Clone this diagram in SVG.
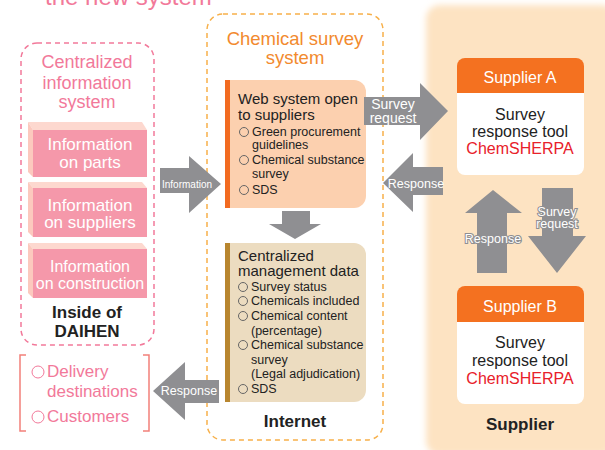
<svg xmlns="http://www.w3.org/2000/svg" width="605" height="450" viewBox="0 0 605 450">
<defs>
<style>
text{font-family:"Liberation Sans",Arial,sans-serif}
.pinkT{fill:#f2799a;font-size:17px}
.pinkH{fill:#f2799a;font-size:18px}
.orT{fill:#f28a2e;font-size:18.5px}
.box3dT{fill:#fff;font-size:17px;text-anchor:middle}
.blk{fill:#222;font-size:15px}
.item{fill:#222;font-size:12.5px}
.bold{fill:#222;font-size:17px;font-weight:bold;text-anchor:middle}
.arrow{fill:#8f8f92}
.arT{fill:#fff;text-anchor:middle}
.outT{fill:#fff;stroke:#8f8f92;stroke-width:2.2;paint-order:stroke;text-anchor:middle;font-size:12.5px}
.sup{fill:#fff;font-size:16px;text-anchor:middle}
.supB{fill:#222;font-size:16px;text-anchor:middle}
.chem{fill:#e8202a;font-size:16px;text-anchor:middle}
.circ{fill:none;stroke:#666;stroke-width:1}
</style>
<filter id="soft" x="-5%" y="-5%" width="110%" height="110%"><feGaussianBlur stdDeviation="3"/></filter>
</defs>
<rect width="605" height="450" fill="#fff"/>

<text x="45" y="5" style="fill:#f2799a;font-size:24px;font-family:'Liberation Sans',Arial,sans-serif">the new system</text>

<g id="supplier-panel">
<rect x="426" y="5" width="190" height="450" rx="14" fill="#fde3c2" filter="url(#soft)"/>
<text x="520" y="430" class="bold">Supplier</text>
</g>

<g id="centralized-info">
<rect x="21" y="43" width="133" height="302" rx="16" fill="none" stroke="#f2799a" stroke-width="1.5" stroke-dasharray="5,4"/>
<text x="87" y="68" class="pinkH" text-anchor="middle">Centralized</text>
<text x="87" y="89" class="pinkH" text-anchor="middle">information</text>
<text x="87" y="108" class="pinkH" text-anchor="middle">system</text>
<text x="87" y="318" class="bold">Inside of</text>
<text x="87" y="337" class="bold">DAIHEN</text>
</g>

<g id="info-parts">
<polygon points="28,122 142,122 147,130 33,130" fill="#fdd8cf"/>
<polygon points="28,122 33,130 33,177 28,172" fill="#fcc9be"/>
<rect x="33" y="130" width="114" height="47" fill="#f598aa"/>
<text x="90" y="150" class="box3dT">Information</text>
<text x="90" y="168" class="box3dT">on parts</text>
</g>
<g id="info-suppliers">
<polygon points="28,182 142,182 147,188 33,188" fill="#fdd8cf"/>
<polygon points="28,182 33,188 33,237 28,232" fill="#fcc9be"/>
<rect x="33" y="188" width="114" height="49" fill="#f598aa"/>
<text x="90" y="211" class="box3dT">Information</text>
<text x="90" y="228" class="box3dT">on suppliers</text>
</g>
<g id="info-construction">
<polygon points="28,243 142,243 147,249 33,249" fill="#fdd8cf"/>
<polygon points="28,243 33,249 33,298 28,293" fill="#fcc9be"/>
<rect x="33" y="249" width="114" height="49" fill="#f598aa"/>
<text x="90" y="272" class="box3dT" style="font-size:16px">Information</text>
<text x="90" y="289" class="box3dT" style="font-size:16px">on construction</text>
</g>

<g id="destinations">
<path d="M26,355 H20 V431 H26 M143,355 H149 V431 H143" fill="none" stroke="#f2807a" stroke-width="1.5"/>
<circle cx="38" cy="372" r="6" fill="none" stroke="#f2799a" stroke-width="1"/>
<text x="47" y="377" class="pinkT">Delivery</text>
<text x="47" y="397" class="pinkT">destinations</text>
<circle cx="38" cy="417" r="6" fill="none" stroke="#f2799a" stroke-width="1"/>
<text x="47" y="422" class="pinkT">Customers</text>
</g>

<g id="chemical-survey-system">
<rect x="207" y="14" width="176" height="426" rx="16" fill="none" stroke="#f7b04a" stroke-width="1.5" stroke-dasharray="5,4"/>
<text x="295" y="45" class="orT" text-anchor="middle">Chemical survey</text>
<text x="295" y="64" class="orT" text-anchor="middle">system</text>
<text x="295" y="427" class="bold">Internet</text>
</g>

<g id="web-system">
<path d="M225,80 H354 A12,12 0 0 1 366,92 V196 A12,12 0 0 1 354,208 H225 Z" fill="#fcd0af"/>
<rect x="225" y="80" width="5" height="128" fill="#f26b21"/>
<text x="238" y="104" class="blk">Web system open</text>
<text x="238" y="120" class="blk">to suppliers</text>
<circle cx="244" cy="132" r="4.5" class="circ"/>
<text x="252" y="136" class="item">Green procurement</text>
<text x="252" y="149" class="item">guidelines</text>
<circle cx="244" cy="160" r="4.5" class="circ"/>
<text x="252" y="164" class="item">Chemical substance</text>
<text x="252" y="178" class="item">survey</text>
<circle cx="244" cy="190" r="4.5" class="circ"/>
<text x="252" y="194" class="item">SDS</text>
</g>

<g id="management-data">
<path d="M225,243 H354 A12,12 0 0 1 366,255 V390 A12,12 0 0 1 354,402 H225 Z" fill="#ecdcc0"/>
<rect x="225" y="243" width="5" height="159" fill="#b8862f"/>
<text x="238" y="261" class="blk">Centralized</text>
<text x="238" y="276" class="blk">management data</text>
<circle cx="243" cy="287" r="4.5" class="circ"/>
<text x="251" y="291" class="item">Survey status</text>
<circle cx="243" cy="301" r="4.5" class="circ"/>
<text x="251" y="305" class="item">Chemicals included</text>
<circle cx="243" cy="316" r="4.5" class="circ"/>
<text x="251" y="320" class="item">Chemical content</text>
<text x="251" y="335" class="item">(percentage)</text>
<circle cx="243" cy="345" r="4.5" class="circ"/>
<text x="251" y="349" class="item">Chemical substance</text>
<text x="251" y="364" class="item">survey</text>
<text x="251" y="378" class="item">(Legal adjudication)</text>
<circle cx="243" cy="389" r="4.5" class="circ"/>
<text x="251" y="393" class="item">SDS</text>
</g>

<g id="supplier-a">
<path d="M457,66 A8,8 0 0 1 465,58 H576 A8,8 0 0 1 584,66 V93 H457 Z" fill="#f47120"/>
<path d="M457,93 H584 V167 A8,8 0 0 1 576,175 H465 A8,8 0 0 1 457,167 Z" fill="#fff"/>
<text x="520" y="83" class="sup">Supplier A</text>
<text x="520" y="120" class="supB">Survey</text>
<text x="520" y="137" class="supB">response tool</text>
<text x="520" y="154" class="chem">ChemSHERPA</text>
</g>

<g id="supplier-b">
<path d="M457,294 A8,8 0 0 1 465,286 H576 A8,8 0 0 1 584,294 V322 H457 Z" fill="#f47120"/>
<path d="M457,322 H584 V396 A8,8 0 0 1 576,404 H465 A8,8 0 0 1 457,396 Z" fill="#fff"/>
<text x="520" y="312" class="sup">Supplier B</text>
<text x="520" y="348" class="supB">Survey</text>
<text x="520" y="366" class="supB">response tool</text>
<text x="520" y="384" class="chem">ChemSHERPA</text>
</g>

<g id="connectors">
<polygon class="arrow" points="160,168 189,168 189,156 221,184 189,213 189,193 160,193"/>
<text x="187" y="188" class="arT" style="font-size:11px" textLength="50" lengthAdjust="spacingAndGlyphs">Information</text>

<polygon class="arrow" points="282,211 310,211 310,224 321,224 295,239 269,224 282,224"/>

<polygon class="arrow" points="364,97 420,97 420,83 448,111 420,140 420,125 364,125"/>
<text x="393" y="109" class="arT" style="font-size:14px">Survey</text>
<text x="393" y="123" class="arT" style="font-size:14px">request</text>

<polygon class="arrow" points="443,167 413,167 413,153 383,183 413,212 413,195 443,195"/>
<text x="416" y="188" class="arT" style="font-size:12.5px">Response</text>

<polygon class="arrow" points="219,380 185,380 185,362 153,391 185,420 185,403 219,403"/>
<text x="189" y="395" class="arT" style="font-size:12.5px">Response</text>

<polygon class="arrow" points="477,273 477,213 465,213 493,190 522,213 507,213 507,273"/>
<text x="493" y="243" class="outT">Response</text>

<polygon class="arrow" points="542,188 573,188 573,236 586,236 557,273 528,236 542,236"/>
<text x="557" y="216" class="outT">Survey</text>
<text x="557" y="228" class="outT">request</text>
</g>
</svg>
